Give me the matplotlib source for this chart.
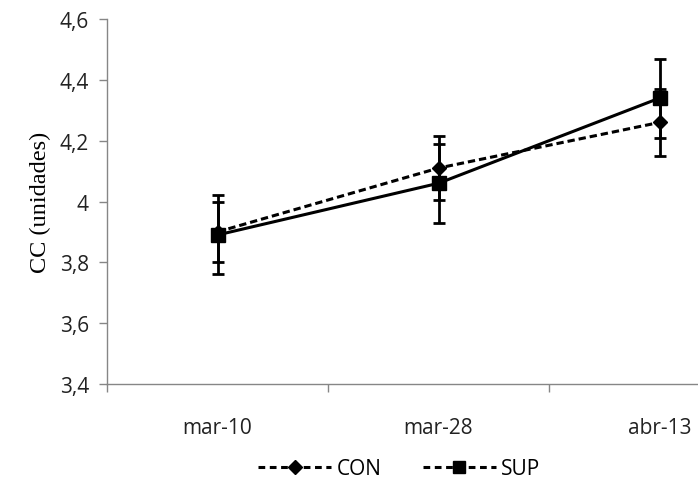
import matplotlib
matplotlib.use('Agg')
import matplotlib.pyplot as plt
from matplotlib.lines import Line2D

# data
fechas = ['mar-10', 'mar-28', 'abr-13']
con = [3.90, 4.11, 4.26]
con_err = [0.10, 0.105, 0.11]
sup = [3.89, 4.06, 4.34]
sup_err = [0.13, 0.13, 0.13]
y_ticks = [3.4, 3.6, 3.8, 4.0, 4.2, 4.4, 4.6]
y_labels = ['3,4', '3,6', '3,8', '4', '4,2', '4,4', '4,6']

SANS = 'Open Sans'
GRAY = '#868686'
FS = 15

fig = plt.figure(figsize=(6.98, 4.81), dpi=100, facecolor='white')
ax = fig.add_axes([0.1533, 0.1996, 0.95, 0.7588])

x = list(range(len(fechas)))
dash = (0, (2.4, 1.3))

ax.errorbar(x, con, yerr=con_err, color='black', lw=2.2, linestyle=dash,
            marker='D', markersize=7, elinewidth=2, capsize=4, capthick=2,
            zorder=3)
ax.errorbar(x, sup, yerr=sup_err, color='black', lw=2.2, linestyle='-',
            marker='s', markersize=10, elinewidth=2, capsize=4, capthick=2,
            zorder=4)

ax.set_xlim(-0.5, 2.5)
ax.set_ylim(3.4, 4.6)
ax.set_yticks(y_ticks)
ax.set_yticklabels(y_labels, fontsize=FS, family=SANS, color='#222222')
ax.set_xticks(x)
ax.set_xticklabels(fechas, fontsize=FS, family=SANS, color='#222222')
ax.set_xticks([-0.5, 0.5, 1.5], minor=True)
ax.tick_params(axis='x', which='major', length=0, pad=24)
ax.tick_params(axis='x', which='minor', length=6, color=GRAY, width=1)
ax.tick_params(axis='y', length=6, color=GRAY, width=1, pad=7)

for s in ['top', 'right']:
    ax.spines[s].set_visible(False)
for s in ['left', 'bottom']:
    ax.spines[s].set_color(GRAY)
    ax.spines[s].set_linewidth(1)

ax.set_ylabel('CC (unidades)', family='Liberation Serif', fontsize=17.5,
              labelpad=6)

leg_dash = (0, (2.2, 1.5))
handles = [
    Line2D([0], [0], color='black', lw=2.2, linestyle=leg_dash, marker='D',
           markersize=7),
    Line2D([0], [0], color='black', lw=2.2, linestyle=leg_dash, marker='s',
           markersize=9),
]
fig.legend(handles, ['CON', 'SUP'], loc='center', bbox_to_anchor=(0.572, 0.024),
           ncol=2, frameon=False, handlelength=3.5, handletextpad=0.25,
           columnspacing=2.0, prop={'family': SANS, 'size': FS})

fig.savefig('out.png', dpi=100, facecolor='white')
